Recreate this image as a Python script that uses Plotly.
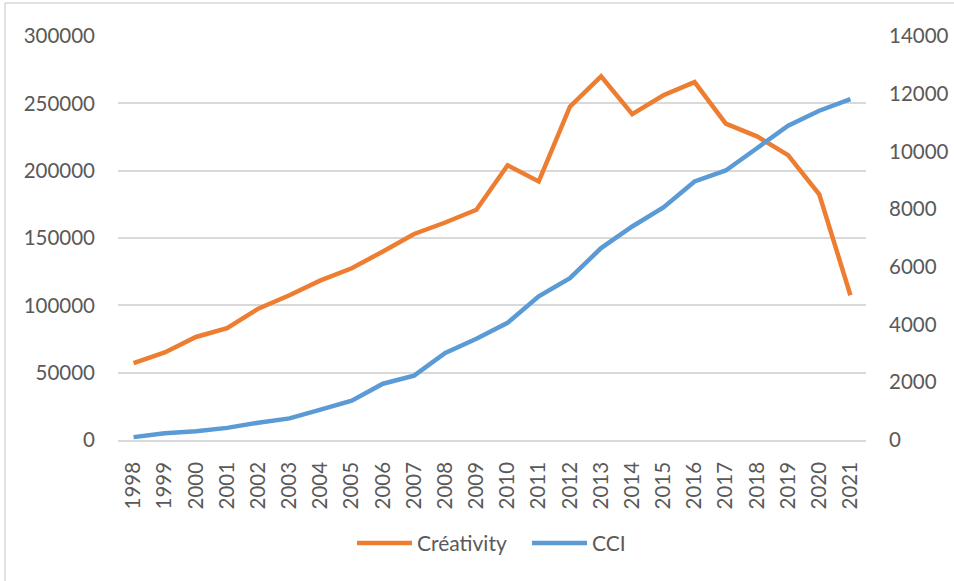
import plotly.graph_objects as go

years = [str(y) for y in range(1998, 2022)]
creativity = [57000, 65000, 76500, 83000, 97500, 107500, 118500, 127500, 140000, 153000,
              161500, 171000, 204000, 192000, 247500, 270000, 242000, 256000, 265800, 235000,
              225500, 211500, 182500, 107500]
cci = [100, 230, 300, 420, 600, 750, 1050, 1360, 1950, 2230,
       3020, 3510, 4060, 4980, 5610, 6650, 7400, 8060, 8960, 9340,
       10110, 10890, 11410, 11810]

TXT = "#595959"
GRID = "#D9D9D9"
FONT = "Lato, Liberation Sans, sans-serif"
TS = 20.5

fig = go.Figure()
fig.add_trace(go.Scatter(x=years, y=creativity, name="Créativity", mode="lines",
                         line=dict(color="#ED7D31", width=4.5), yaxis="y"))
fig.add_trace(go.Scatter(x=years, y=cci, name="CCI", mode="lines",
                         line=dict(color="#5B9BD5", width=4.5), yaxis="y2"))

L, R, T, B = 118, 88, 36, 140.5
W, H = 954, 581
pw = W - L - R
ph = H - T - B

def px(x):
    return (x - L) / pw

def py(y):
    return (H - B - y) / ph

fig.update_layout(
    width=W, height=H,
    margin=dict(l=L, r=R, t=T, b=B, pad=0, autoexpand=False),
    paper_bgcolor="white", plot_bgcolor="white",
    font=dict(family=FONT, size=TS, color=TXT),
    showlegend=True,
    legend=dict(orientation="h", x=px(352), xanchor="left", y=py(544), yanchor="middle",
                font=dict(family=FONT, size=21, color=TXT), itemwidth=55,
                entrywidth=105, entrywidthmode="pixels",
                traceorder="normal", bgcolor="rgba(0,0,0,0)"),
    xaxis=dict(type="category", range=[-0.5, 23.5], tickangle=-90, showgrid=False,
               showline=True, linecolor=GRID, linewidth=1.5, ticks="", zeroline=False,
               automargin=False,
               ticklabelstandoff=12, tickfont=dict(family=FONT, size=TS, color=TXT)),
    yaxis=dict(range=[0, 300000], dtick=50000, showgrid=True, gridcolor=GRID, gridwidth=1.5,
               zeroline=False, showline=False, ticks="", ticklabelstandoff=22,
               automargin=False,
               tickformat="d", tickfont=dict(family=FONT, size=TS, color=TXT)),
    yaxis2=dict(range=[0, 14000], dtick=2000, overlaying="y", side="right", showgrid=False,
                zeroline=False, showline=False, ticks="", ticklabelstandoff=22,
                automargin=False,
                tickformat="d", tickfont=dict(family=FONT, size=TS, color=TXT)),
    shapes=[
        dict(type="line", xref="paper", yref="paper", x0=px(5), x1=px(5), y0=py(3), y1=py(600),
             line=dict(color=GRID, width=1.5)),
        dict(type="line", xref="paper", yref="paper", x0=px(5), x1=px(970), y0=py(3), y1=py(3),
             line=dict(color=GRID, width=1.5)),
    ],
)

fig.write_html("out.html", config={"displayModeBar": False},
               post_script="document.body.style.margin='0';document.body.style.overflow='hidden';")
